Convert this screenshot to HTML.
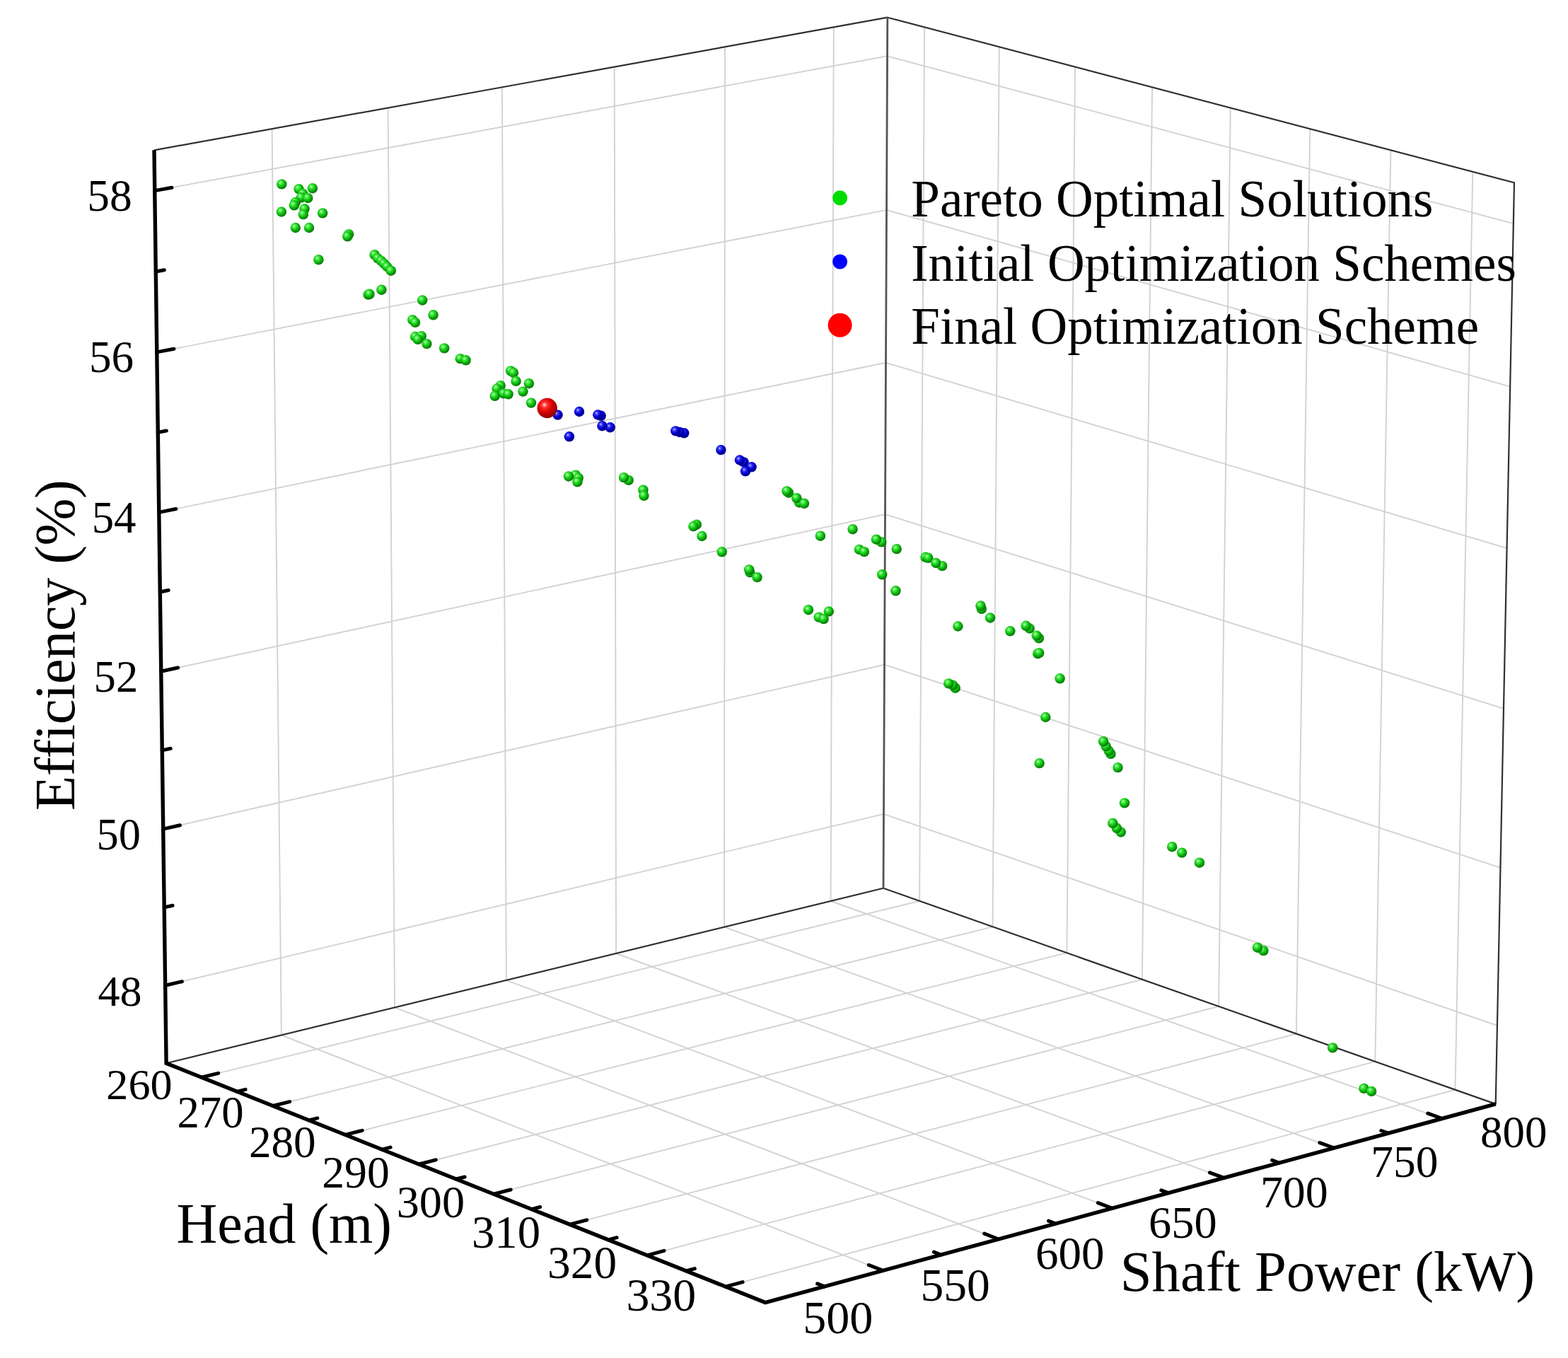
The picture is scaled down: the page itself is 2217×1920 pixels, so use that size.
<!DOCTYPE html>
<html lang="en">
<head>
<meta charset="utf-8">
<title>Pareto Optimal Solutions</title>
<style>
html,body{margin:0;padding:0;background:#fff;}
body{width:2217px;height:1920px;overflow:hidden;font-family:"Liberation Serif","DejaVu Serif",serif;}
svg{display:block;}
text{font-family:"Liberation Serif","DejaVu Serif",serif;fill:#000;}
.tk{text-anchor:middle;}

.lg{font-size:73px;}
.grid line{stroke:#d2d2d2;stroke-width:1.9;}
.frame{stroke:#303030;stroke-width:2.2;fill:none;stroke-linejoin:round;}
.axes{stroke:#000;stroke-width:5.4;fill:none;stroke-linejoin:miter;stroke-linecap:butt;}
.ticks line{stroke:#000;stroke-width:5;stroke-linecap:round;}
</style>
</head>
<body>
<svg width="2217" height="1920" viewBox="0 0 2217 1920">
<defs>
<radialGradient id="gg" cx="40%" cy="38%" r="70%" fx="36%" fy="33%">
<stop offset="0" stop-color="#d0ffd0"/><stop offset="20%" stop-color="#50f050"/><stop offset="52%" stop-color="#10c010"/><stop offset="1" stop-color="#005c00"/>
</radialGradient>
<radialGradient id="gb" cx="40%" cy="38%" r="70%" fx="36%" fy="33%">
<stop offset="0" stop-color="#d0d0ff"/><stop offset="20%" stop-color="#4040ff"/><stop offset="52%" stop-color="#0000d0"/><stop offset="1" stop-color="#000068"/>
</radialGradient>
<radialGradient id="gr" cx="40%" cy="38%" r="70%" fx="36%" fy="33%">
<stop offset="0" stop-color="#ffe0e0"/><stop offset="20%" stop-color="#ff3030"/><stop offset="52%" stop-color="#d80000"/><stop offset="1" stop-color="#780000"/>
</radialGradient>
</defs>
<rect width="2217" height="1920" fill="#fff"/>
<g class="grid">
<line x1="397.9" y1="1463.5" x2="384.6" y2="182.1"/>
<line x1="397.9" y1="1463.5" x2="1248.4" y2="1796.4"/>
<line x1="558.1" y1="1424.4" x2="548.6" y2="152.4"/>
<line x1="558.1" y1="1424.4" x2="1411.8" y2="1752"/>
<line x1="715.9" y1="1385.9" x2="709.9" y2="123.3"/>
<line x1="715.9" y1="1385.9" x2="1572.6" y2="1708.3"/>
<line x1="871.1" y1="1348" x2="868.7" y2="94.5"/>
<line x1="871.1" y1="1348" x2="1730.7" y2="1665.3"/>
<line x1="1024" y1="1310.7" x2="1025" y2="66.3"/>
<line x1="1024" y1="1310.7" x2="1886.2" y2="1623"/>
<line x1="1174.6" y1="1274" x2="1178.8" y2="38.4"/>
<line x1="1174.6" y1="1274" x2="2039.2" y2="1581.5"/>
<line x1="1300.1" y1="1273.8" x2="1307.1" y2="38.4"/>
<line x1="285" y1="1523.2" x2="1300.1" y2="1273.8"/>
<line x1="1403.5" y1="1310.3" x2="1412.8" y2="66.3"/>
<line x1="385.9" y1="1563.5" x2="1403.5" y2="1310.3"/>
<line x1="1508.4" y1="1347.2" x2="1520.1" y2="94.6"/>
<line x1="488.3" y1="1604.4" x2="1508.4" y2="1347.2"/>
<line x1="1614.9" y1="1384.8" x2="1629.1" y2="123.3"/>
<line x1="592.5" y1="1646" x2="1614.9" y2="1384.8"/>
<line x1="1723" y1="1422.9" x2="1739.8" y2="152.5"/>
<line x1="698.2" y1="1688.2" x2="1723" y2="1422.9"/>
<line x1="1832.8" y1="1461.6" x2="1852.2" y2="182.1"/>
<line x1="805.7" y1="1731.2" x2="1832.8" y2="1461.6"/>
<line x1="1944.3" y1="1500.8" x2="1966.4" y2="212.2"/>
<line x1="914.9" y1="1774.8" x2="1944.3" y2="1500.8"/>
<line x1="2057.5" y1="1540.7" x2="2082.3" y2="242.8"/>
<line x1="1025.9" y1="1819.1" x2="2057.5" y2="1540.7"/>
<line x1="233.7" y1="1393.3" x2="1249.5" y2="1150.9"/>
<line x1="1249.5" y1="1150.9" x2="2117" y2="1450"/>
<line x1="230.7" y1="1172.1" x2="1250.5" y2="939.7"/>
<line x1="1250.5" y1="939.7" x2="2121.5" y2="1226.8"/>
<line x1="227.8" y1="949.2" x2="1251.5" y2="727.1"/>
<line x1="1251.5" y1="727.1" x2="2126" y2="1001.9"/>
<line x1="224.8" y1="724.4" x2="1252.5" y2="512.8"/>
<line x1="1252.5" y1="512.8" x2="2130.6" y2="775.1"/>
<line x1="221.8" y1="497.9" x2="1253.5" y2="296.9"/>
<line x1="1253.5" y1="296.9" x2="2135.2" y2="546.6"/>
<line x1="218.7" y1="269.6" x2="1254.6" y2="79.3"/>
<line x1="1254.6" y1="79.3" x2="2139.9" y2="316.2"/>
</g>
<g class="frame">
<polyline points="218,212.3 1254.8,24.7 2141,258.3 2114.7,1560.9 1249,1255.8 235.1,1503.3" />
<line x1="1249" y1="1255.8" x2="1254.8" y2="24.7" stroke="#555" stroke-width="2.8"/>
</g>
<g class="axes">
<polyline points="218,212.3 235.1,1503.3 1082.1,1841.6 2114.7,1560.9" />
</g>
<g class="ticks">
<line x1="233.7" y1="1393.3" x2="257.4" y2="1387.7"/>
<line x1="230.7" y1="1172.1" x2="254.5" y2="1166.7"/>
<line x1="227.8" y1="949.2" x2="251.6" y2="944"/>
<line x1="224.8" y1="724.4" x2="248.8" y2="719.5"/>
<line x1="221.8" y1="497.9" x2="245.9" y2="493.2"/>
<line x1="218.7" y1="269.6" x2="242.9" y2="265.2"/>
<line x1="232.2" y1="1282.9" x2="244.1" y2="1280.2"/>
<line x1="229.2" y1="1060.9" x2="241.2" y2="1058.2"/>
<line x1="226.3" y1="837" x2="238.2" y2="834.5"/>
<line x1="223.3" y1="611.4" x2="235.3" y2="609"/>
<line x1="220.3" y1="384" x2="232.3" y2="381.7"/>
<line x1="285" y1="1523.2" x2="308.7" y2="1517.4"/>
<line x1="385.9" y1="1563.5" x2="409.6" y2="1557.6"/>
<line x1="488.3" y1="1604.4" x2="512.2" y2="1598.4"/>
<line x1="592.5" y1="1646" x2="616.3" y2="1639.9"/>
<line x1="698.2" y1="1688.2" x2="722.2" y2="1682"/>
<line x1="805.7" y1="1731.2" x2="829.7" y2="1724.9"/>
<line x1="914.9" y1="1774.8" x2="939" y2="1768.4"/>
<line x1="1025.9" y1="1819.1" x2="1050.1" y2="1812.6"/>
<line x1="335.2" y1="1543.3" x2="347.1" y2="1540.3"/>
<line x1="436.9" y1="1583.9" x2="448.8" y2="1580.9"/>
<line x1="540.2" y1="1625.1" x2="552.1" y2="1622.1"/>
<line x1="645.1" y1="1667" x2="657.1" y2="1664"/>
<line x1="751.7" y1="1709.6" x2="763.7" y2="1706.5"/>
<line x1="860.1" y1="1752.9" x2="872.1" y2="1749.7"/>
<line x1="970.2" y1="1796.9" x2="982.3" y2="1793.6"/>
<line x1="1248.4" y1="1796.4" x2="1228.3" y2="1788.5"/>
<line x1="1411.8" y1="1752" x2="1391.7" y2="1744.2"/>
<line x1="1572.6" y1="1708.3" x2="1552.4" y2="1700.7"/>
<line x1="1730.7" y1="1665.3" x2="1710.4" y2="1657.8"/>
<line x1="1886.2" y1="1623" x2="1865.9" y2="1615.7"/>
<line x1="2039.2" y1="1581.5" x2="2018.8" y2="1574.2"/>
<line x1="1165.6" y1="1818.9" x2="1155.6" y2="1814.9"/>
<line x1="1330.5" y1="1774.1" x2="1320.4" y2="1770.2"/>
<line x1="1492.5" y1="1730" x2="1482.5" y2="1726.2"/>
<line x1="1652" y1="1686.7" x2="1641.8" y2="1682.9"/>
<line x1="1808.7" y1="1644.1" x2="1798.6" y2="1640.4"/>
<line x1="1963" y1="1602.2" x2="1952.8" y2="1598.5"/>
</g>
<g class="legend-marks">
<circle cx="1187.6" cy="279.8" r="10.5" fill="#00dc00"/>
<circle cx="1187.6" cy="370" r="10.5" fill="#0000ff"/>
<circle cx="1187.6" cy="459.8" r="17" fill="#ff0000"/>
</g>
<g class="pts-blue">
<circle cx="788.6" cy="586.6" r="7.2" fill="url(#gb)"/>
<circle cx="819" cy="582" r="7.2" fill="url(#gb)"/>
<circle cx="804.9" cy="617.3" r="7.2" fill="url(#gb)"/>
<circle cx="849.7" cy="587.8" r="7.2" fill="url(#gb)"/>
<circle cx="845.3" cy="586.5" r="7.2" fill="url(#gb)"/>
<circle cx="862.7" cy="604.3" r="7.2" fill="url(#gb)"/>
<circle cx="851.4" cy="602.2" r="7.2" fill="url(#gb)"/>
<circle cx="967.2" cy="612.3" r="7.2" fill="url(#gb)"/>
<circle cx="960.9" cy="611" r="7.2" fill="url(#gb)"/>
<circle cx="955.3" cy="609.4" r="7.2" fill="url(#gb)"/>
<circle cx="1019.4" cy="636.1" r="7.2" fill="url(#gb)"/>
<circle cx="1051.5" cy="653.4" r="7.2" fill="url(#gb)"/>
<circle cx="1045.9" cy="650.5" r="7.2" fill="url(#gb)"/>
<circle cx="1062.6" cy="660.3" r="7.2" fill="url(#gb)"/>
<circle cx="1054" cy="666.3" r="7.2" fill="url(#gb)"/>
</g>
<g class="pts-green">
<circle cx="398.3" cy="260.4" r="7.2" fill="url(#gg)"/>
<circle cx="422.5" cy="267.1" r="7.2" fill="url(#gg)"/>
<circle cx="441.9" cy="266.2" r="7.2" fill="url(#gg)"/>
<circle cx="428.4" cy="274" r="7.2" fill="url(#gg)"/>
<circle cx="425.9" cy="279.3" r="7.2" fill="url(#gg)"/>
<circle cx="435.3" cy="280" r="7.2" fill="url(#gg)"/>
<circle cx="417.8" cy="285.9" r="7.2" fill="url(#gg)"/>
<circle cx="415.9" cy="290.3" r="7.2" fill="url(#gg)"/>
<circle cx="430.6" cy="295.3" r="7.2" fill="url(#gg)"/>
<circle cx="428.8" cy="303.1" r="7.2" fill="url(#gg)"/>
<circle cx="397.9" cy="299.5" r="7.2" fill="url(#gg)"/>
<circle cx="456.1" cy="301.4" r="7.2" fill="url(#gg)"/>
<circle cx="417.8" cy="322" r="7.2" fill="url(#gg)"/>
<circle cx="437" cy="322" r="7.2" fill="url(#gg)"/>
<circle cx="493.1" cy="331.2" r="7.2" fill="url(#gg)"/>
<circle cx="491.3" cy="334.3" r="7.2" fill="url(#gg)"/>
<circle cx="450.4" cy="367.2" r="7.2" fill="url(#gg)"/>
<circle cx="529.6" cy="360.1" r="7.2" fill="url(#gg)"/>
<circle cx="534" cy="365.1" r="7.2" fill="url(#gg)"/>
<circle cx="539" cy="368.9" r="7.2" fill="url(#gg)"/>
<circle cx="542.8" cy="372.6" r="7.2" fill="url(#gg)"/>
<circle cx="547.2" cy="377" r="7.2" fill="url(#gg)"/>
<circle cx="552.8" cy="382.7" r="7.2" fill="url(#gg)"/>
<circle cx="539.4" cy="409.7" r="7.2" fill="url(#gg)"/>
<circle cx="520.5" cy="416.6" r="7.2" fill="url(#gg)"/>
<circle cx="522.5" cy="415.8" r="7.2" fill="url(#gg)"/>
<circle cx="597.2" cy="424.5" r="7.2" fill="url(#gg)"/>
<circle cx="612.5" cy="445.3" r="7.2" fill="url(#gg)"/>
<circle cx="583.2" cy="452.1" r="7.2" fill="url(#gg)"/>
<circle cx="587" cy="455.9" r="7.2" fill="url(#gg)"/>
<circle cx="587" cy="476" r="7.2" fill="url(#gg)"/>
<circle cx="595.8" cy="475.1" r="7.2" fill="url(#gg)"/>
<circle cx="590.8" cy="479.8" r="7.2" fill="url(#gg)"/>
<circle cx="603.4" cy="486.1" r="7.2" fill="url(#gg)"/>
<circle cx="628.2" cy="492.4" r="7.2" fill="url(#gg)"/>
<circle cx="650.7" cy="507.1" r="7.2" fill="url(#gg)"/>
<circle cx="658.6" cy="509.3" r="7.2" fill="url(#gg)"/>
<circle cx="722.1" cy="524.4" r="7.2" fill="url(#gg)"/>
<circle cx="725.9" cy="526.9" r="7.2" fill="url(#gg)"/>
<circle cx="729.6" cy="538.9" r="7.2" fill="url(#gg)"/>
<circle cx="747.9" cy="542.2" r="7.2" fill="url(#gg)"/>
<circle cx="707.7" cy="545.1" r="7.2" fill="url(#gg)"/>
<circle cx="702.6" cy="549.5" r="7.2" fill="url(#gg)"/>
<circle cx="739.4" cy="553.6" r="7.2" fill="url(#gg)"/>
<circle cx="712" cy="556.4" r="7.2" fill="url(#gg)"/>
<circle cx="718.6" cy="557.3" r="7.2" fill="url(#gg)"/>
<circle cx="699.7" cy="559.8" r="7.2" fill="url(#gg)"/>
<circle cx="751" cy="569.6" r="7.2" fill="url(#gg)"/>
<circle cx="813.9" cy="671.7" r="7.2" fill="url(#gg)"/>
<circle cx="817.7" cy="675.7" r="7.2" fill="url(#gg)"/>
<circle cx="803.9" cy="673.5" r="7.2" fill="url(#gg)"/>
<circle cx="816.4" cy="681.4" r="7.2" fill="url(#gg)"/>
<circle cx="888.7" cy="678.9" r="7.2" fill="url(#gg)"/>
<circle cx="882" cy="675.1" r="7.2" fill="url(#gg)"/>
<circle cx="909.4" cy="692.7" r="7.2" fill="url(#gg)"/>
<circle cx="910.4" cy="700.8" r="7.2" fill="url(#gg)"/>
<circle cx="984.8" cy="741.7" r="7.2" fill="url(#gg)"/>
<circle cx="980.4" cy="744.2" r="7.2" fill="url(#gg)"/>
<circle cx="992.4" cy="758" r="7.2" fill="url(#gg)"/>
<circle cx="1115" cy="696.7" r="7.2" fill="url(#gg)"/>
<circle cx="1112.5" cy="694.4" r="7.2" fill="url(#gg)"/>
<circle cx="1130" cy="710.5" r="7.2" fill="url(#gg)"/>
<circle cx="1126.3" cy="704.2" r="7.2" fill="url(#gg)"/>
<circle cx="1137" cy="711.8" r="7.2" fill="url(#gg)"/>
<circle cx="1159.9" cy="757.7" r="7.2" fill="url(#gg)"/>
<circle cx="1205.6" cy="748.2" r="7.2" fill="url(#gg)"/>
<circle cx="1246.3" cy="766.4" r="7.2" fill="url(#gg)"/>
<circle cx="1239" cy="762.7" r="7.2" fill="url(#gg)"/>
<circle cx="1214.9" cy="776.9" r="7.2" fill="url(#gg)"/>
<circle cx="1221.9" cy="780.1" r="7.2" fill="url(#gg)"/>
<circle cx="1020.7" cy="780.3" r="7.2" fill="url(#gg)"/>
<circle cx="1060.3" cy="809.2" r="7.2" fill="url(#gg)"/>
<circle cx="1059.1" cy="805.4" r="7.2" fill="url(#gg)"/>
<circle cx="1070.6" cy="816.1" r="7.2" fill="url(#gg)"/>
<circle cx="1247.2" cy="812.3" r="7.2" fill="url(#gg)"/>
<circle cx="1267.7" cy="776.1" r="7.2" fill="url(#gg)"/>
<circle cx="1308.5" cy="787.8" r="7.2" fill="url(#gg)"/>
<circle cx="1312.3" cy="788.8" r="7.2" fill="url(#gg)"/>
<circle cx="1332.1" cy="800.1" r="7.2" fill="url(#gg)"/>
<circle cx="1323.3" cy="796" r="7.2" fill="url(#gg)"/>
<circle cx="1266.4" cy="835.3" r="7.2" fill="url(#gg)"/>
<circle cx="1143" cy="862.2" r="7.2" fill="url(#gg)"/>
<circle cx="1171.8" cy="864.5" r="7.2" fill="url(#gg)"/>
<circle cx="1157.7" cy="872.6" r="7.2" fill="url(#gg)"/>
<circle cx="1164.6" cy="875.1" r="7.2" fill="url(#gg)"/>
<circle cx="1354.4" cy="885.5" r="7.2" fill="url(#gg)"/>
<circle cx="1387.8" cy="860.9" r="7.2" fill="url(#gg)"/>
<circle cx="1386.5" cy="856.5" r="7.2" fill="url(#gg)"/>
<circle cx="1400" cy="873.5" r="7.2" fill="url(#gg)"/>
<circle cx="1428.3" cy="892.3" r="7.2" fill="url(#gg)"/>
<circle cx="1455.7" cy="888.5" r="7.2" fill="url(#gg)"/>
<circle cx="1450.6" cy="884.8" r="7.2" fill="url(#gg)"/>
<circle cx="1468.9" cy="902.4" r="7.2" fill="url(#gg)"/>
<circle cx="1465.7" cy="898.6" r="7.2" fill="url(#gg)"/>
<circle cx="1467.2" cy="924.2" r="7.2" fill="url(#gg)"/>
<circle cx="1469.2" cy="923.2" r="7.2" fill="url(#gg)"/>
<circle cx="1498.6" cy="959.3" r="7.2" fill="url(#gg)"/>
<circle cx="1350.7" cy="972.7" r="7.2" fill="url(#gg)"/>
<circle cx="1347" cy="968.6" r="7.2" fill="url(#gg)"/>
<circle cx="1341.3" cy="966.4" r="7.2" fill="url(#gg)"/>
<circle cx="1478.3" cy="1014" r="7.2" fill="url(#gg)"/>
<circle cx="1469.6" cy="1079.1" r="7.2" fill="url(#gg)"/>
<circle cx="1570.5" cy="1065.9" r="7.2" fill="url(#gg)"/>
<circle cx="1567.6" cy="1061.5" r="7.2" fill="url(#gg)"/>
<circle cx="1563.8" cy="1055.2" r="7.2" fill="url(#gg)"/>
<circle cx="1560.1" cy="1048.3" r="7.2" fill="url(#gg)"/>
<circle cx="1580.5" cy="1085.1" r="7.2" fill="url(#gg)"/>
<circle cx="1590" cy="1135.4" r="7.2" fill="url(#gg)"/>
<circle cx="1584.8" cy="1176.5" r="7.2" fill="url(#gg)"/>
<circle cx="1578.9" cy="1170.8" r="7.2" fill="url(#gg)"/>
<circle cx="1573.3" cy="1163.9" r="7.2" fill="url(#gg)"/>
<circle cx="1657.2" cy="1197.2" r="7.2" fill="url(#gg)"/>
<circle cx="1671.1" cy="1205.6" r="7.2" fill="url(#gg)"/>
<circle cx="1695.9" cy="1219.7" r="7.2" fill="url(#gg)"/>
<circle cx="1786.4" cy="1344.1" r="7.2" fill="url(#gg)"/>
<circle cx="1778" cy="1339.7" r="7.2" fill="url(#gg)"/>
<circle cx="1884.2" cy="1481.4" r="7.2" fill="url(#gg)"/>
<circle cx="1928.4" cy="1538.9" r="7.2" fill="url(#gg)"/>
<circle cx="1939.1" cy="1543" r="7.2" fill="url(#gg)"/>
</g>
<g class="pts-red">
<circle cx="773.7" cy="577" r="14.2" fill="url(#gr)"/>
</g>
<g class="labels">
<text class="tk" x="154.9" y="298.3" font-size="63.4">58</text>
<text class="tk" x="157.6" y="525.9" font-size="63.1">56</text>
<text class="tk" x="161.1" y="752.6" font-size="62.9">54</text>
<text class="tk" x="163.9" y="977.9" font-size="62.6">52</text>
<text class="tk" x="167.8" y="1200.7" font-size="62.4">50</text>
<text class="tk" x="169.6" y="1421.9" font-size="62.1">48</text>
<text class="tk" x="197" y="1554.2" font-size="62.2">260</text>
<text class="tk" x="297.5" y="1594.4" font-size="62.7">270</text>
<text class="tk" x="399.3" y="1636.3" font-size="63.2">280</text>
<text class="tk" x="503" y="1678.8" font-size="63.7">290</text>
<text class="tk" x="608.9" y="1721" font-size="64.2">300</text>
<text class="tk" x="715.5" y="1764" font-size="64.7">310</text>
<text class="tk" x="823.1" y="1807.4" font-size="65.3">320</text>
<text class="tk" x="934.8" y="1852.7" font-size="65.8">330</text>
<text class="tk" x="1184.8" y="1884.9" font-size="66.1">500</text>
<text class="tk" x="1350.6" y="1839.4" font-size="65.5">550</text>
<text class="tk" x="1512.7" y="1794" font-size="65">600</text>
<text class="tk" x="1672.4" y="1750.4" font-size="64.4">650</text>
<text class="tk" x="1829.8" y="1706.7" font-size="63.9">700</text>
<text class="tk" x="1985.8" y="1664" font-size="63.4">750</text>
<text class="tk" x="2140.2" y="1621.5" font-size="62.9">800</text>
<text x="249.6" y="1756.6" class="tt" font-size="80">Head (m)</text>
<text x="1583.8" y="1825.4" class="tt" font-size="80.6">Shaft Power (kW)</text>
<text x="0" y="0" class="tt" font-size="80.6" letter-spacing="-0.55" text-anchor="middle" transform="translate(105.3 912.3) rotate(-90)">Efficiency (%)</text>
<text x="1288.3" y="306.1" class="lg">Pareto Optimal Solutions</text>
<text x="1288.3" y="396.7" class="lg">Initial Optimization Schemes</text>
<text x="1288.3" y="486.2" class="lg">Final Optimization Scheme</text>
</g>
</svg>
</body>
</html>
